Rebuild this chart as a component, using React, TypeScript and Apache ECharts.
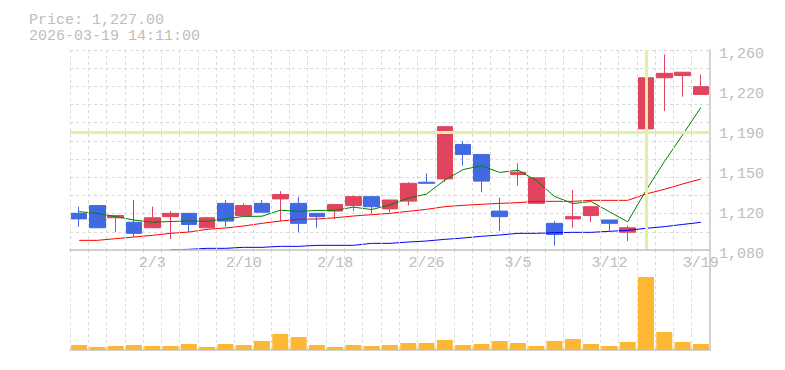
import React, { useEffect, useRef } from 'react';
import * as echarts from 'echarts';

const categories = ['1/28', '1/29', '1/30', '2/2', '2/3', '2/4', '2/5', '2/6', '2/9', '2/10', '2/12', '2/13', '2/16', '2/17', '2/18', '2/19', '2/20', '2/24', '2/25', '2/26', '2/27', '3/2', '3/3', '3/4', '3/5', '3/6', '3/9', '3/10', '3/11', '3/12', '3/13', '3/16', '3/17', '3/18', '3/19'];
const openPrices = [1113, 1120, 1109, 1105, 1100, 1110, 1113, 1100, 1122, 1111, 1122, 1126, 1122, 1113, 1115, 1120, 1128, 1117, 1124, 1141, 1144, 1175, 1166, 1115, 1148, 1122, 1104, 1108, 1111, 1107, 1096, 1189, 1235, 1237, 1220];
const closePrices = [1108, 1100, 1111, 1095, 1109, 1113, 1103, 1109, 1106, 1120, 1114, 1130, 1104, 1110, 1121, 1128, 1119, 1125, 1140, 1140, 1191, 1166, 1142, 1110, 1150, 1145, 1094, 1110, 1119, 1104, 1100, 1235, 1239, 1240, 1227];
const lowPrices = [1101, 1100, 1096, 1092, 1100, 1090, 1096, 1100, 1101, 1111, 1114, 1106, 1096, 1100, 1108, 1115, 1113, 1114, 1120, 1140, 1141, 1156, 1132, 1097, 1138, 1122, 1084, 1100, 1105, 1097, 1088, 1178, 1205, 1218, 1220];
const highPrices = [1119, 1120, 1111, 1125, 1119, 1115, 1113, 1110, 1125, 1122, 1125, 1133, 1128, 1113, 1121, 1129, 1128, 1125, 1141, 1149, 1191, 1178, 1166, 1127, 1158, 1145, 1106, 1134, 1119, 1107, 1102, 1238, 1256, 1240, 1238];
const ma5 = [1114.5, 1113, 1110, 1107, 1105, 1105.6, 1106.2, 1105.8, 1108, 1110.2, 1110.4, 1115.8, 1114.8, 1115.6, 1115.8, 1118.6, 1116.4, 1120.6, 1126.6, 1130.4, 1143, 1152.4, 1155.8, 1149.8, 1151.8, 1142.6, 1128.2, 1121.8, 1123.6, 1114.4, 1105.4, 1133.6, 1159.4, 1183.6, 1208.2];
const ma25 = [1088.7, 1088.7, 1090.2, 1091.7, 1093.2, 1095, 1096.2, 1098.6, 1099.8, 1101.6, 1104, 1106.1, 1107.6, 1107.9, 1109, 1110.6, 1111.8, 1113, 1114.8, 1116.6, 1119, 1120.2, 1121.1, 1122, 1122.6, 1123.8, 1123.8, 1123.8, 1124.7, 1124.7, 1124.7, 1130.4, 1134.6, 1139.4, 1143.9];
const ma75 = ['-', '-', '-', '-', '-', 1080.2, 1080.6, 1081.5, 1081.5, 1082.4, 1082.4, 1083.3, 1083.3, 1084.2, 1084.2, 1084.2, 1086, 1086, 1087.2, 1088.1, 1089.6, 1090.8, 1092.3, 1093.5, 1095, 1095, 1095.6, 1095.9, 1095.9, 1096.8, 1097.7, 1099.5, 1101, 1103, 1104.9];
const volumes = [30, 18, 24, 30, 24, 24, 36, 18, 36, 30, 54, 96, 78, 30, 18, 30, 24, 30, 42, 42, 60, 30, 36, 54, 42, 24, 54, 66, 36, 24, 48, 438, 108, 48, 36];
const priceTickLabels = ['1,080', '1,120', '1,150', '1,190', '1,220', '1,260'];
const dateLabelIndices = [4, 9, 14, 19, 24, 29, 34];
const titleLines = ['Price: 1,227.00', '2026-03-19 14:11:00'];
const crosshairDate = '3/16';
const crosshairPrice = 1185.75;

export default function App() {
  const ref = useRef<HTMLDivElement>(null);
  useEffect(() => {
    const chart = echarts.init(ref.current!, null, { renderer: 'svg' });
    const font = '"Liberation Mono", "DejaVu Sans Mono", monospace';
    const gray = '#bdbdbd';
    const axisGray = '#c4c4c4';
    const dash = { color: '#dadada', type: [3, 3] as any, width: 1 };
    const candleData = categories.map((_, i) => [openPrices[i], closePrices[i], lowPrices[i], highPrices[i]]);
    chart.setOption({
      animation: false,
      graphic: [
        {
          type: 'text',
          left: 29,
          top: 13,
          style: { text: titleLines.join('\n'), fill: gray, font: `15px ${font}`, lineHeight: 15.5 },
        },
      ],
      grid: [
        { left: 70, right: 75, top: 50, height: 200 },
        { left: 70, right: 75, top: 250, height: 100 },
      ],
      xAxis: [
        {
          type: 'category',
          gridIndex: 0,
          data: categories,
          boundaryGap: true,
          axisLine: { show: true, lineStyle: { color: axisGray, width: 1.5 } },
          axisTick: { show: false },
          axisLabel: {
            interval: (i: number) => dateLabelIndices.includes(i),
            color: gray,
            fontFamily: font,
            fontSize: 15,
            margin: 6,
          },
          splitLine: { show: true, interval: 0, lineStyle: dash },
          z: 5,
        },
        {
          type: 'category',
          gridIndex: 1,
          data: categories,
          boundaryGap: true,
          axisLine: { show: true, lineStyle: { color: axisGray, width: 1.5 } },
          axisTick: { show: false },
          axisLabel: { show: false },
          splitLine: { show: true, interval: 0, lineStyle: dash },
        },
      ],
      yAxis: [
        {
          type: 'value',
          gridIndex: 0,
          position: 'right',
          min: 1080,
          max: 1260,
          interval: 36,
          axisLine: { show: true, lineStyle: { color: axisGray, width: 1.5 } },
          axisTick: { show: false },
          splitLine: { show: false },
          axisLabel: {
            formatter: (v: number) => priceTickLabels[Math.round((v - 1080) / 36)],
            color: gray,
            fontFamily: font,
            fontSize: 15,
            margin: 9,
            verticalAlign: 'top',
            lineHeight: 8,
          },
        },
        {
          type: 'value',
          gridIndex: 0,
          position: 'left',
          min: 0,
          max: 11,
          interval: 1,
          axisLine: { show: false },
          axisTick: { show: false },
          axisLabel: { show: false },
          splitLine: { show: true, lineStyle: dash },
        },
        {
          type: 'value',
          gridIndex: 1,
          position: 'right',
          min: 0,
          max: 600,
          axisLine: { show: true, lineStyle: { color: axisGray, width: 1.5 } },
          axisTick: { show: false },
          axisLabel: { show: false },
          splitLine: { show: false },
        },
      ],
      series: [
        {
          name: 'crosshair',
          type: 'line',
          xAxisIndex: 0,
          yAxisIndex: 0,
          data: closePrices,
          symbol: 'none',
          lineStyle: { opacity: 0 },
          silent: true,
          z: 1,
          markLine: {
            silent: true,
            symbol: ['none', 'none'],
            label: { show: false },
            lineStyle: { color: '#e2f0a6', width: 3, type: 'solid' },
            data: [{ xAxis: crosshairDate }, { yAxis: crosshairPrice }],
          },
        },
        {
          type: 'candlestick',
          xAxisIndex: 0,
          yAxisIndex: 0,
          data: candleData,
          barWidth: 16,
          z: 2,
          itemStyle: {
            color: '#e0445e',
            color0: '#4169e1',
            borderColor: '#e0445e',
            borderColor0: '#4169e1',
            borderWidth: 1,
          },
        },
        {
          type: 'line',
          xAxisIndex: 0,
          yAxisIndex: 0,
          data: ma25,
          symbol: 'none',
          z: 3,
          lineStyle: { color: '#ff0000', width: 1 },
        },
        {
          type: 'line',
          xAxisIndex: 0,
          yAxisIndex: 0,
          data: ma75,
          symbol: 'none',
          z: 3,
          lineStyle: { color: '#0000ff', width: 1 },
        },
        {
          type: 'line',
          xAxisIndex: 0,
          yAxisIndex: 0,
          data: ma5,
          symbol: 'none',
          z: 3,
          lineStyle: { color: '#008000', width: 1 },
        },
        {
          type: 'bar',
          xAxisIndex: 1,
          yAxisIndex: 2,
          data: volumes,
          barWidth: 16,
          itemStyle: { color: '#fdb733' },
        },
      ],
    });
    return () => chart.dispose();
  }, []);
  return <div ref={ref} style={{ position: 'absolute', left: 0, top: 0, width: 785, height: 370 }} />;
}
